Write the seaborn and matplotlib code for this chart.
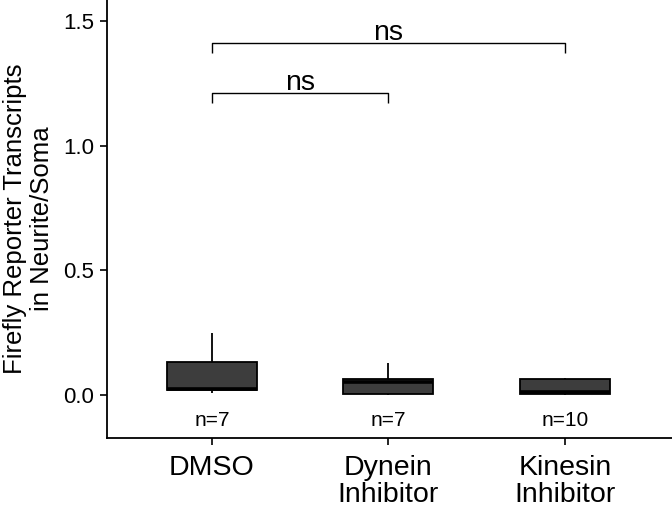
import numpy as np
import pandas as pd
import seaborn as sns
import matplotlib.pyplot as plt

# ---- data ----
groups = ["DMSO", "Dynein\nInhibitor", "Kinesin\nInhibitor"]
dmso = [0.007, 0.018, 0.022, 0.026, 0.104, 0.164, 0.249]
dynein = [0.0, 0.002, 0.004, 0.052, 0.062, 0.066, 0.128]
kinesin = [0.0, 0.002, 0.004, 0.005, 0.010, 0.014, 0.060, 0.067, 0.068, 0.070]
comparisons = [(0, 1, "ns"), (0, 2, "ns")]
y_ticks = [0.0, 0.5, 1.0, 1.5]
y_label = "Firefly Reporter Transcripts\nin Neurite/Soma"

df = pd.DataFrame({
    "group": [groups[0]] * len(dmso) + [groups[1]] * len(dynein) + [groups[2]] * len(kinesin),
    "value": dmso + dynein + kinesin,
})

sns.set_theme(style="ticks")
plt.rcParams["font.family"] = ["Liberation Sans", "DejaVu Sans"]

fig = plt.figure(figsize=(6.72, 5.08), dpi=100)
ax = fig.add_axes([0.159, 0.1378, 0.841, 0.8622])

sns.boxplot(data=df, x="group", y="value", order=groups, ax=ax,
            color="#3d3d3d", saturation=1, width=0.51, showfliers=False,
            showcaps=False, linecolor="black", linewidth=1.3,
            boxprops=dict(facecolor="#3d3d3d", edgecolor="black", linewidth=1.3),
            medianprops=dict(color="black", linewidth=2.6),
            whiskerprops=dict(color="black", linewidth=1.3))

# n labels
counts = [len(dmso), len(dynein), len(kinesin)]
for i, n in enumerate(counts):
    ax.text(i, -0.102, f"n={n}", ha="center", va="center", fontsize=15, color="black")

# significance brackets
levels = {(0, 1): (1.211, 1.172), (0, 2): (1.41, 1.37)}
for a, b, lab in comparisons:
    top, low = levels[(a, b)]
    ax.plot([a, a, b, b], [low, top, top, low], color="black", lw=1.0,
            solid_capstyle="butt", clip_on=False)
    ax.text((a + b) / 2, top + 0.014, lab, ha="center", va="baseline",
            fontsize=20.5, color="black")

ax.set_xlim(-0.595, 2.606)
ax.set_ylim(-0.1725, 1.584)
ax.set_yticks(y_ticks)
ax.set_yticklabels([f"{t:.1f}" for t in y_ticks])
ax.set_xlabel("")
ax.set_ylabel(y_label, fontsize=18.5, color="black", labelpad=7, linespacing=1.12)
ax.tick_params(axis="y", labelsize=16, length=5, width=1.2, colors="black", pad=4)
ax.tick_params(axis="x", labelsize=20.5, length=5, width=1.2, colors="black", pad=7)
for lbl in ax.get_xticklabels():
    lbl.set_linespacing(1.05)
for s in ["top", "right"]:
    ax.spines[s].set_visible(False)
for s in ["left", "bottom"]:
    ax.spines[s].set_linewidth(1.3)
    ax.spines[s].set_color("black")

fig.savefig("out.png", dpi=100)
